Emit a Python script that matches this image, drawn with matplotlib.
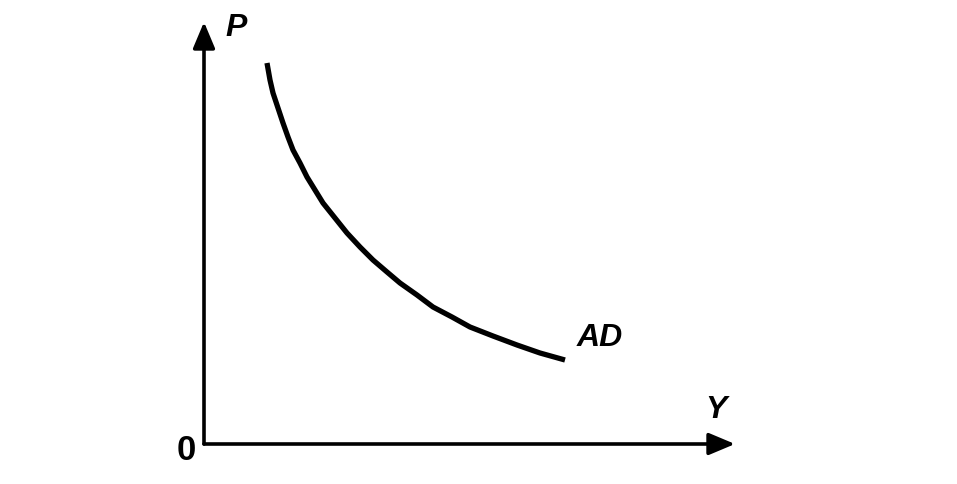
import matplotlib
matplotlib.use('Agg')
import matplotlib.pyplot as plt

# AD curve (output Y, price level P)
output_y = [63, 66, 69, 74, 79, 84, 89, 96, 103, 111, 119, 131, 143,
            156, 169, 183, 196, 213, 229, 248, 266, 289, 313, 336, 361]
price_p = [381, 364, 351, 336, 321, 307, 294, 281, 267, 254, 241, 226, 211,
           197, 184, 172, 161, 149, 137, 127, 117, 108, 99, 91, 84]

x_axis_end = 531
y_axis_end = 422

fig = plt.figure(figsize=(9.57, 4.84), dpi=100)
ax = fig.add_axes([0, 0, 1, 1])
ax.set_xlim(-204, 753)
ax.set_ylim(-40, 444)
ax.axis('off')

arrow = dict(arrowstyle='-|>,head_length=1.0,head_width=0.42', color='black',
             lw=2.6, mutation_scale=16, shrinkA=0, shrinkB=0)
ax.annotate('', xy=(x_axis_end, 0), xytext=(0, 0), arrowprops=arrow)
ax.annotate('', xy=(0, y_axis_end), xytext=(0, 0), arrowprops=arrow)

ax.plot(output_y, price_p, color='black', lw=3.8, solid_capstyle='butt',
        solid_joinstyle='round')

font = dict(family='Liberation Sans', fontsize=23, fontweight='bold', color='black')
ax.text(32, 416, 'P', style='italic', ha='center', va='center', **font)
ax.text(512, 34, 'Y', style='italic', ha='center', va='center', **font)
ax.text(396, 106, 'AD', style='italic', ha='center', va='center', **font)
ax.text(-18, -7, '0', ha='center', va='center', fontsize=25,
        family='Liberation Sans', fontweight='bold', color='black')

fig.savefig('out.png', dpi=100, facecolor='white')
